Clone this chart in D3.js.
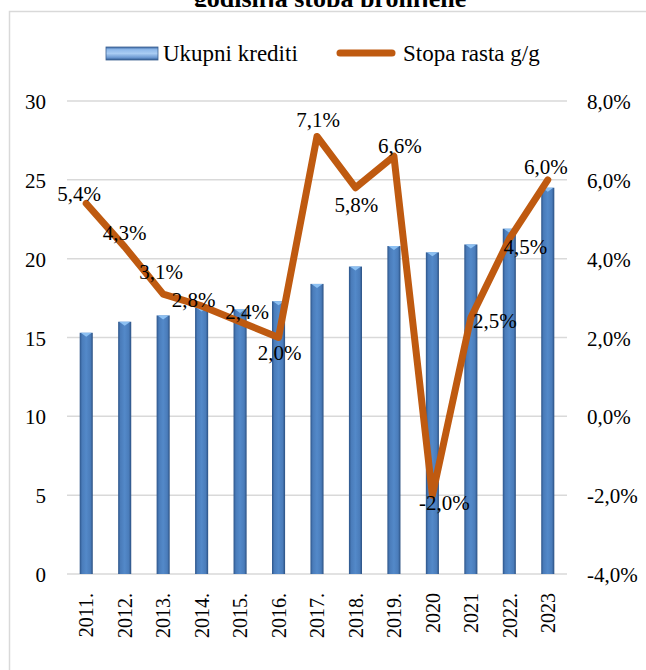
<!DOCTYPE html>
<html><head><meta charset="utf-8">
<script src="https://cdn.jsdelivr.net/npm/d3@7"></script>
<style>
html,body{margin:0;padding:0;background:#fff;}
svg{display:block;}
svg text{font-family:"Liberation Serif","Times New Roman",Times,"DejaVu Serif",serif;}
</style></head>
<body>
<svg id="chart" width="646" height="670"></svg>
<script>
const categories = ["2011.","2012.","2013.","2014.","2015.","2016.","2017.","2018.","2019.","2020","2021","2022.","2023"];
const credits = [15.3, 16.0, 16.4, 16.9, 16.8, 17.3, 18.4, 19.5, 20.8, 20.4, 20.9, 21.9, 24.5];
const growth = [5.4, 4.3, 3.1, 2.8, 2.4, 2.0, 7.1, 5.8, 6.6, -2.0, 2.5, 4.5, 6.0];
const leftTicks = [0, 5, 10, 15, 20, 25, 30];
const rightTicks = [-4, -2, 0, 2, 4, 6, 8];
const titleText = "godišnja stopa promjene";
const seriesNames = ["Ukupni krediti", "Stopa rasta g/g"];
// label placement offsets (layout, px): [dx of label center, dy of baseline] relative to point
const labelOffsets = [[-7,-2],[0,-7],[-2,-15],[-8,1],[7,-3],[1,22],[1,-9],[1,24],[6,-3],[12,15],[24,10],[16,15],[-2,-6]];

const svg = d3.select("#chart");
const defs = svg.append("defs");
const LINE = "#BF5A10";

const g1 = defs.append("linearGradient").attr("id","barGrad").attr("x1","0").attr("x2","1").attr("y1","0").attr("y2","0");
[[0,"#2c5489"],[0.18,"#4a7cba"],[0.5,"#5389c9"],[0.82,"#4a7cba"],[1,"#2a4f80"]].forEach(s=>g1.append("stop").attr("offset",s[0]).attr("stop-color",s[1]));
const g2 = defs.append("linearGradient").attr("id","legGrad").attr("x1","0").attr("x2","0").attr("y1","0").attr("y2","1");
[[0,"#3d6aa6"],[0.2,"#8fb9ea"],[0.5,"#a9ccf3"],[0.8,"#6f9bd3"],[1,"#2f5b93"]].forEach(s=>g2.append("stop").attr("offset",s[0]).attr("stop-color",s[1]));

// title (clipped by chart area, as in the reference)
svg.append("text").attr("x",330).attr("y",7).attr("text-anchor","middle")
  .attr("font-weight","bold").attr("font-size",26).attr("fill","#000").text(titleText);
svg.append("rect").attr("x",0).attr("y",7).attr("width",646).attr("height",663).attr("fill","#fff");
svg.append("rect").attr("x",9.5).attr("y",11.5).attr("width",700).attr("height",700)
  .attr("fill","none").attr("stroke","#d9d9d9").attr("stroke-width",1.5);

const x = d3.scaleBand().domain(categories).range([67,567]).paddingInner(0.66).paddingOuter(0.33);
const yL = d3.scaleLinear().domain([0,30]).range([574,101]);
const yR = d3.scaleLinear().domain([-4,8]).range([574,101]);

svg.append("g").selectAll("line").data(leftTicks).join("line")
  .attr("x1",67).attr("x2",567).attr("y1",d=>yL(d)).attr("y2",d=>yL(d))
  .attr("stroke","#d9d9d9").attr("stroke-width",1.5);

const axL = svg.append("g").attr("transform","translate(46,0)")
  .call(d3.axisLeft(yL).tickValues(leftTicks).tickSize(0).tickPadding(0).tickFormat(d3.format("d")));
axL.select(".domain").remove();
axL.selectAll("text").attr("font-size",21).attr("fill","#000").attr("dy","0.36em");

const fmtPct = d => d3.format(".1f")(d).replace(".",",").replace("\u2212","-") + "%";
const axR = svg.append("g").attr("transform","translate(587,0)")
  .call(d3.axisRight(yR).tickValues(rightTicks).tickSize(0).tickPadding(0).tickFormat(fmtPct));
axR.select(".domain").remove();
axR.selectAll("text").attr("font-size",21).attr("fill","#000").attr("dy","0.36em");

const axX = svg.append("g").attr("transform","translate(0,574)")
  .call(d3.axisBottom(x).tickSize(0).tickPadding(0));
axX.select(".domain").remove();
axX.selectAll("text").attr("font-size",20).attr("fill","#000")
  .attr("transform","rotate(-90)").attr("text-anchor","end").attr("x",-19).attr("y",0).attr("dy","0.36em");

const bars = svg.append("g");
bars.selectAll("rect").data(credits).join("rect")
  .attr("x",(d,i)=>x(categories[i])).attr("width",x.bandwidth())
  .attr("y",d=>yL(d)).attr("height",d=>yL(0)-yL(d)).attr("fill","url(#barGrad)");
bars.selectAll("path").data(credits).join("path")
  .attr("d",(d,i)=>{const x0=x(categories[i]),w=x.bandwidth(),y0=yL(d);
    return `M${x0+1},${y0}L${x0+w-1},${y0}L${x0+w/2},${y0+4}Z`;})
  .attr("fill","#8cc0f2");

const line = d3.line().x((d,i)=>x(categories[i])+x.bandwidth()/2).y(d=>yR(d));
svg.append("path").datum(growth).attr("d",line).attr("fill","none")
  .attr("stroke",LINE).attr("stroke-width",7).attr("stroke-linejoin","round").attr("stroke-linecap","round");

svg.append("g").selectAll("text").data(growth).join("text")
  .attr("x",(d,i)=>x(categories[i])+x.bandwidth()/2+labelOffsets[i][0])
  .attr("y",(d,i)=>yR(d)+labelOffsets[i][1])
  .attr("text-anchor","middle").attr("font-size",21).attr("fill","#000")
  .text(d=>fmtPct(d));

const leg = svg.append("g");
leg.append("rect").attr("x",106).attr("y",47).attr("width",52).attr("height",13).attr("fill","url(#legGrad)").attr("stroke","#3a5f8f").attr("stroke-width",0.8);
leg.append("text").attr("x",163).attr("y",61).attr("font-size",23).attr("fill","#000").text(seriesNames[0]);
leg.append("line").attr("x1",340).attr("x2",392).attr("y1",53).attr("y2",53).attr("stroke",LINE).attr("stroke-width",7).attr("stroke-linecap","round");
leg.append("text").attr("x",403).attr("y",61).attr("font-size",23).attr("fill","#000").text(seriesNames[1]);
</script>
</body></html>
